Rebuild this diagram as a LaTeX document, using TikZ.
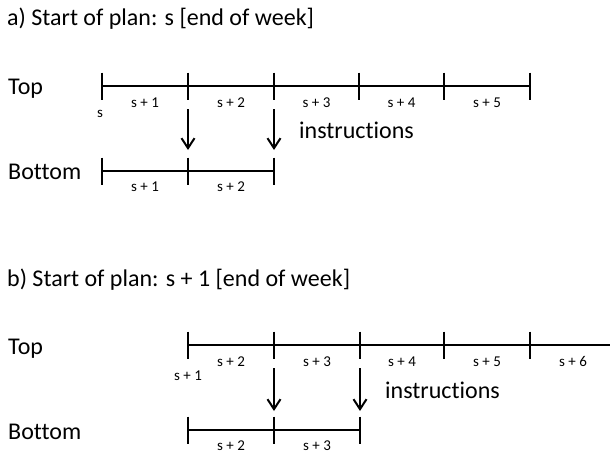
\documentclass[tikz,border=0pt]{standalone}
\usepackage{fontspec}
\setmainfont[Ligatures=CommonOff]{Carlito}
\usetikzlibrary{arrows.meta}
\begin{document}
\begin{tikzpicture}[x=1pt,y=-1pt,
  bar/.style={line width=2pt},
  tickmark/.style={line width=2pt},
  bigtext/.style={inner sep=0pt, font=\fontsize{24}{28}\selectfont, anchor=base west},
  smalltext/.style={inner sep=0pt, font=\fontsize{15}{17}\selectfont, anchor=base},
  handover/.style={line width=2pt, -{Straight Barb[length=10pt,width=13pt]}}]
\useasboundingbox (0,0) rectangle (610,453);

% ---------- a) plan starting at s ----------
\node[bigtext] (titleA) at (7,25) {a) Start of plan: s [end of week]};
\node[bigtext] (topA) at (8,94) {Top};
\node[bigtext] (botA) at (8,179) {Bottom};
\node[bigtext] (instrA) at (299,138) {instructions};

% upper timeline
\draw[bar] (102,86) -- (530,86);
\foreach \x in {102,188,274,359,444,530}
  \draw[tickmark] (\x,72.5) -- (\x,100);
\foreach \n/\x in {1/145,2/231,3/316.5,4/401.5,5/487}
  \node[smalltext] (aTop\n) at (\x,107) {s + \n};
\node[smalltext] (aStart) at (100,117) {s};

% handover arrows
\coordinate (aFromA) at (188,109);
\coordinate (aToA) at (188,150);
\coordinate (aFromB) at (274,109);
\coordinate (aToB) at (274,150);
\draw[handover] (aFromA) -- (aToA);
\draw[handover] (aFromB) -- (aToB);

% lower timeline
\draw[bar] (102,171) -- (274,171);
\foreach \x in {102,188,274}
  \draw[tickmark] (\x,157.5) -- (\x,185);
\foreach \n/\x in {1/145,2/231}
  \node[smalltext] (aBot\n) at (\x,191.5) {s + \n};

% ---------- b) plan starting at s + 1 ----------
\node[bigtext] (titleB) at (7,286) {b) Start of plan: s + 1 [end of week]};
\node[bigtext] (topB) at (8,354) {Top};
\node[bigtext] (botB) at (8,439) {Bottom};
\node[bigtext] (instrB) at (385,398) {instructions};

% upper timeline
\draw[bar] (188,345) -- (610,345);
\foreach \x in {188,274,360,444,530}
  \draw[tickmark] (\x,331.5) -- (\x,359);
\foreach \n/\x in {2/231,3/317,4/402,5/487,6/573}
  \node[smalltext] (bTop\n) at (\x,366) {s + \n};
\node[smalltext] (bStart) at (188,380) {s + 1};

% handover arrows
\coordinate (bFromA) at (274,368);
\coordinate (bToA) at (274,411);
\coordinate (bFromB) at (360,368);
\coordinate (bToB) at (360,411);
\draw[handover] (bFromA) -- (bToA);
\draw[handover] (bFromB) -- (bToB);

% lower timeline
\draw[bar] (188,430) -- (360,430);
\foreach \x in {188,274,360}
  \draw[tickmark] (\x,416.5) -- (\x,444);
\foreach \n/\x in {2/231,3/317}
  \node[smalltext] (bBot\n) at (\x,450.5) {s + \n};
\end{tikzpicture}
\end{document}
